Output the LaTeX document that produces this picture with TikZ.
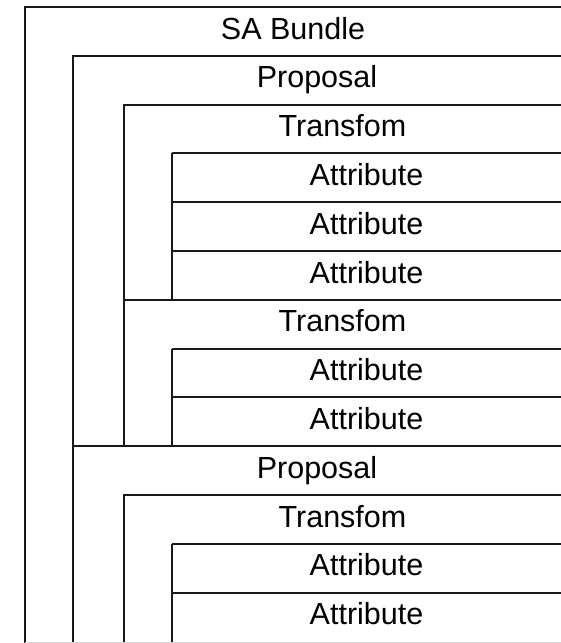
\documentclass[tikz,border=0pt]{standalone}
\usepackage{fontspec}
\setmainfont{Liberation Sans}
\tikzset{
  lbl/.style={font=\fontsize{30.5}{30.5}\selectfont, inner sep=0pt, anchor=base},
  edge/.style={line width=2.1pt, black!90},
}

\begin{document}
\begin{tikzpicture}[x=1pt,y=-1pt]
  \useasboundingbox (0,0) rectangle (561,643);
  % SA bundle
  \draw[edge] (25,643) -- (25,7) -- (561,7);
  \node[lbl] (bundle) at (293,39) {SA Bundle};
  % first proposal
  \draw[edge] (73,643) -- (73,55.8) -- (561,55.8);
  \node[lbl] (prop1) at (317,87.8) {Proposal};
  % first transform with three attributes
  \draw[edge] (124,446.2) -- (124,104.6) -- (561,104.6);
  \node[lbl] (tf1) at (342.5,136.6) {Transfom};
  \draw[edge] (172,299.8) -- (172,153.4);
  \foreach \t [count=\i] in {153.4,202.2,251.0} {
    \draw[edge] (172,\t) -- (561,\t);
    \node[lbl] (attr1\i) at (366.5,\t+32) {Attribute};
  }
  % second transform with two attributes
  \draw[edge] (124,299.8) -- (561,299.8);
  \node[lbl] (tf2) at (342.5,331.8) {Transfom};
  \draw[edge] (172,446.2) -- (172,348.6);
  \foreach \t [count=\i] in {348.6,397.4} {
    \draw[edge] (172,\t) -- (561,\t);
    \node[lbl] (attr2\i) at (366.5,\t+32) {Attribute};
  }
  % second proposal
  \draw[edge] (73,446.2) -- (561,446.2);
  \node[lbl] (prop2) at (317,478.2) {Proposal};
  \draw[edge] (124,643) -- (124,495.0) -- (561,495.0);
  \node[lbl] (tf3) at (342.5,527) {Transfom};
  \draw[edge] (172,643) -- (172,543.8);
  \foreach \t [count=\i] in {543.8,592.6} {
    \draw[edge] (172,\t) -- (561,\t);
    \node[lbl] (attr3\i) at (366.5,\t+32) {Attribute};
  }
  % cut-off bottom edge
  \draw[gray!30, line width=1pt] (25,642.5) -- (561,642.5);
\end{tikzpicture}
\end{document}
